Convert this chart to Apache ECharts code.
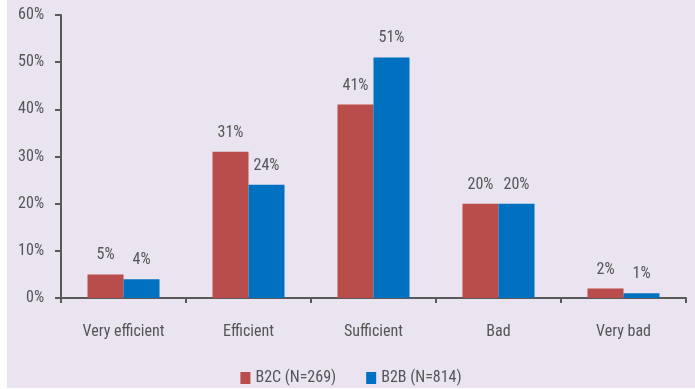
<!DOCTYPE html>
<html><head><meta charset="utf-8">
<script src="https://cdn.jsdelivr.net/npm/echarts@6/dist/echarts.min.js"></script>
<style>
html,body{margin:0;padding:0;background:#ffffff;}
#c{position:absolute;left:7px;top:0;width:688px;height:388px;}
</style></head><body>
<div id="c"></div>
<script>
const categories = ['Very efficient','Efficient','Sufficient','Bad','Very bad'];
const b2c = [5, 31, 41, 20, 2];
const b2b = [4, 24, 51, 20, 1];
const seriesNames = ['B2C (N=269)', 'B2B (N=814)'];
const yTicks = [0, 10, 20, 30, 40, 50, 60];

const FONT = '"Roboto Condensed","DejaVu Sans Condensed",sans-serif';
const FS = 16;
const TXT = '#555555';
const chart = echarts.init(document.getElementById('c'));
const lbl = {show:true, position:'top', distance:11, formatter:'{c}%', color:TXT, fontFamily:FONT, fontSize:FS};
chart.setOption({
  backgroundColor:'#e9e4ef',
  animation:false,
  textStyle:{fontFamily:FONT, color:TXT},
  grid:{left:54, right:9, top:15, bottom:90, containLabel:false},
  legend:{
    top:365, left:'center', itemWidth:10, itemHeight:12, itemGap:30,
    data:seriesNames,
    textStyle:{color:TXT, fontFamily:FONT, fontSize:FS},
    icon:'rect'
  },
  xAxis:{
    type:'category', data:categories,
    axisLine:{lineStyle:{color:'#595959', width:2}},
    axisTick:{show:true, length:5, lineStyle:{color:'#595959', width:2}},
    axisLabel:{color:TXT, fontFamily:FONT, fontSize:FS, margin:26}
  },
  yAxis:{
    type:'value', min:yTicks[0], max:yTicks[yTicks.length-1], interval:10,
    splitLine:{show:false},
    axisLine:{show:true, lineStyle:{color:'#595959', width:2}},
    axisTick:{show:true, length:6, lineStyle:{color:'#595959', width:2}},
    axisLabel:{formatter:'{value}%', color:TXT, fontFamily:FONT, fontSize:FS, margin:17}
  },
  series:[
    {name:seriesNames[0], type:'bar', data:b2c, barWidth:36, barGap:'0%', itemStyle:{color:'#b94d4b'}, label:lbl},
    {name:seriesNames[1], type:'bar', data:b2b, barWidth:36, barGap:'0%', itemStyle:{color:'#0070c0'}, label:lbl}
  ]
});
</script></body></html>
